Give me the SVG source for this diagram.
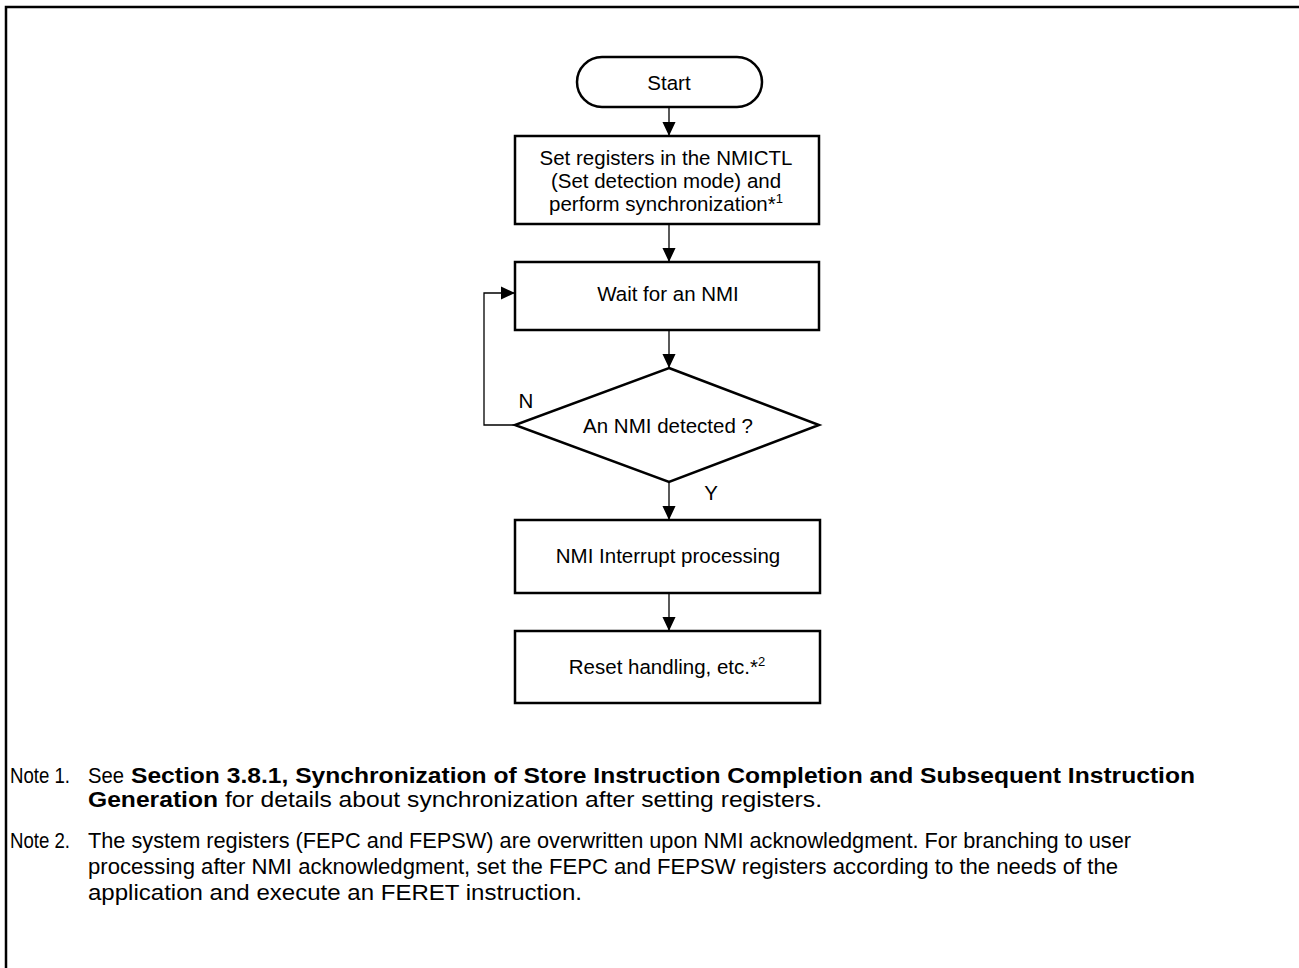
<svg xmlns="http://www.w3.org/2000/svg" width="1299" height="968" viewBox="0 0 1299 968">
<defs>
<style>
.n{fill:#fff;stroke:#000;stroke-width:2.5}
.t{font-family:"Liberation Sans",Arial,sans-serif;font-size:20.5px;fill:#000;text-anchor:middle}
.c{fill:none;stroke:#000;stroke-width:1.3}
.note{font-family:"Liberation Sans",Arial,sans-serif;font-size:22.5px;fill:#000}
.b{font-weight:bold}
</style>
<marker id="ah" markerWidth="14" markerHeight="15" refX="15" refY="7" orient="auto" markerUnits="userSpaceOnUse" viewBox="0 0 15 14">
<path d="M0,0 L15,7 L0,14 Z" fill="#000"/>
</marker>
</defs>
<rect width="1299" height="968" fill="#fff"/>
<path d="M6,968 V7 H1299" fill="none" stroke="#000" stroke-width="2.5"/>

<g id="start">
<rect class="n" x="577" y="57" width="185" height="50" rx="25" ry="25"/>
<text class="t" x="669" y="90">Start</text>
</g>
<g id="set-registers">
<rect class="n" x="515" y="136" width="304" height="88"/>
<text class="t"><tspan x="666" y="165">Set registers in the NMICTL</tspan><tspan x="666" y="188">(Set detection mode) and</tspan><tspan x="666" y="211">perform synchronization*<tspan font-size="13" dy="-8">1</tspan></tspan></text>
</g>
<g id="wait">
<rect class="n" x="515" y="262" width="304" height="68"/>
<text class="t" x="668" y="301">Wait for an NMI</text>
</g>
<g id="decision">
<path class="n" d="M669,368 L819,425 L669,482 L515,425 Z"/>
<text class="t" x="668" y="433">An NMI detected ?</text>
</g>
<g id="nmi-processing">
<rect class="n" x="515" y="520" width="305" height="73"/>
<text class="t" x="668" y="563">NMI Interrupt processing</text>
</g>
<g id="reset">
<rect class="n" x="515" y="631" width="305" height="72"/>
<text class="t" x="667" y="674">Reset handling, etc.*<tspan font-size="13" dy="-8">2</tspan></text>
</g>

<g id="connectors">
<line class="c" x1="669" y1="107" x2="669" y2="136" marker-end="url(#ah)"/>
<line class="c" x1="669" y1="224" x2="669" y2="262" marker-end="url(#ah)"/>
<line class="c" x1="669" y1="330" x2="669" y2="368" marker-end="url(#ah)"/>
<line class="c" x1="669" y1="482" x2="669" y2="520" marker-end="url(#ah)"/>
<line class="c" x1="669" y1="593" x2="669" y2="631" marker-end="url(#ah)"/>
<path class="c" d="M515,425 H484 V293 H515" marker-end="url(#ah)"/>
<text class="t" x="526" y="408">N</text>
<text class="t" x="711" y="500">Y</text>
</g>

<g id="notes">
<text class="note" x="10" y="783" textLength="60" lengthAdjust="spacingAndGlyphs">Note 1.</text>
<text class="note" x="88" y="783" textLength="36" lengthAdjust="spacingAndGlyphs">See</text>
<text class="note b" x="131" y="783" textLength="1064" lengthAdjust="spacingAndGlyphs">Section 3.8.1, Synchronization of Store Instruction Completion and Subsequent Instruction</text>
<text class="note" x="88" y="807" textLength="734" lengthAdjust="spacingAndGlyphs"><tspan class="b">Generation</tspan> for details about synchronization after setting registers.</text>
<text class="note" x="10" y="848" textLength="60" lengthAdjust="spacingAndGlyphs">Note 2.</text>
<text class="note" x="88" y="848" textLength="1043" lengthAdjust="spacingAndGlyphs">The system registers (FEPC and FEPSW) are overwritten upon NMI acknowledgment. For branching to user</text>
<text class="note" x="88" y="874" textLength="1030" lengthAdjust="spacingAndGlyphs">processing after NMI acknowledgment, set the FEPC and FEPSW registers according to the needs of the</text>
<text class="note" x="88" y="900" textLength="494" lengthAdjust="spacingAndGlyphs">application and execute an FERET instruction.</text>
</g>
</svg>
